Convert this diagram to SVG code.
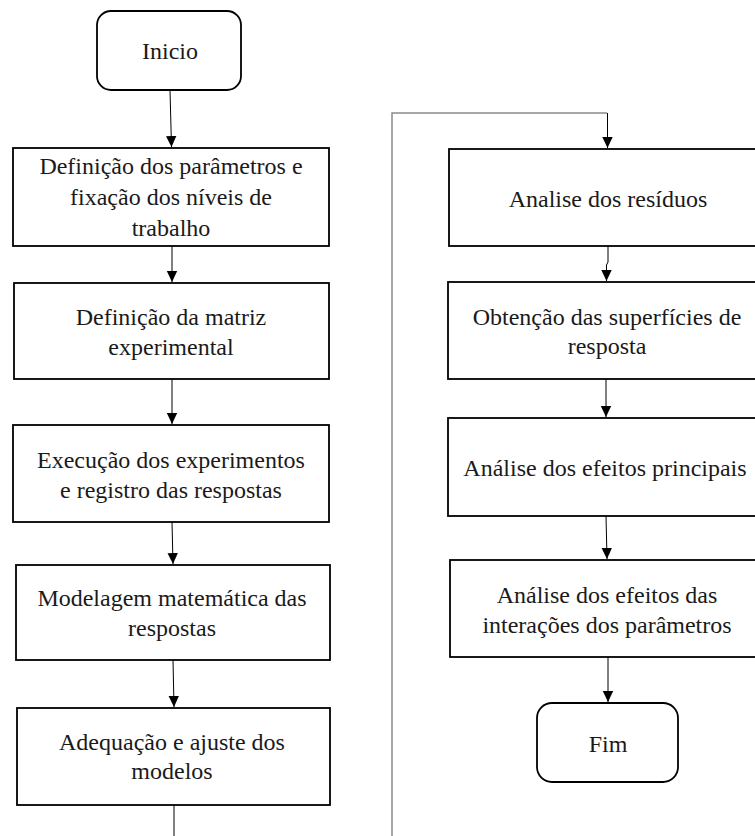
<svg xmlns="http://www.w3.org/2000/svg" width="755" height="836" viewBox="0 0 755 836">
<style>
.box{fill:#fff;stroke:#000;stroke-width:1.8}
.t{font-family:'Liberation Serif','Times New Roman','DejaVu Serif',serif;font-size:24px;fill:#1a1a1a;text-anchor:middle}
.c{fill:none;stroke:#000;stroke-width:1}
.g{fill:none;stroke:#8a8a8a;stroke-width:1.5}
</style>
<defs>
<marker id="ah" markerUnits="userSpaceOnUse" markerWidth="12" markerHeight="12" viewBox="0 0 12 12" refX="11" refY="6" orient="auto">
<path d="M0,0.8 L11,6 L0,11.2 Z" fill="#000"/>
</marker>
</defs>
<rect width="755" height="836" fill="#fff"/>
<g id="connectors">
<path class="c" d="M170,90 L171.5,147" marker-end="url(#ah)"/>
<path class="c" d="M172,246 L172,282" marker-end="url(#ah)"/>
<path class="c" d="M172,379 L172,424" marker-end="url(#ah)"/>
<path class="c" d="M172,522 L173,564" marker-end="url(#ah)"/>
<path class="c" d="M173,660 L174,707" marker-end="url(#ah)"/>
<path class="c" d="M174,805 L174,836"/>
<path class="g" d="M392,836 V113 H607"/>
<path class="c" d="M607.5,113 V148" marker-end="url(#ah)"/>
<path class="c" d="M608,246 V262 L606.5,265 V281" marker-end="url(#ah)"/>
<path class="c" d="M606,379 V417" marker-end="url(#ah)"/>
<path class="c" d="M606,516 L607,559" marker-end="url(#ah)"/>
<path class="c" d="M608,657 V702" marker-end="url(#ah)"/>
</g>
<g id="inicio">
<rect class="box" x="97" y="11" width="144" height="79" rx="14"/>
<text class="t" font-family="Liberation Serif, serif" x="170" y="59">Inicio</text>
</g>
<g id="n1">
<rect class="box" x="13" y="148" width="316" height="98"/>
<text class="t" font-family="Liberation Serif, serif" x="171" y="174">Definição  dos parâmetros e</text>
<text class="t" font-family="Liberation Serif, serif" x="171" y="205">fixação  dos níveis de</text>
<text class="t" font-family="Liberation Serif, serif" x="171" y="236">trabalho</text>
</g>
<g id="n2">
<rect class="box" x="14" y="283" width="315" height="96"/>
<text class="t" font-family="Liberation Serif, serif" x="171" y="325">Definição da matriz</text>
<text class="t" font-family="Liberation Serif, serif" x="171" y="355">experimental</text>
</g>
<g id="n3">
<rect class="box" x="13" y="425" width="316" height="97"/>
<text class="t" font-family="Liberation Serif, serif" x="171" y="468">Execução dos experimentos</text>
<text class="t" font-family="Liberation Serif, serif" x="171" y="498">e registro  das respostas</text>
</g>
<g id="n4">
<rect class="box" x="16" y="565" width="314" height="95"/>
<text class="t" font-family="Liberation Serif, serif" x="172" y="606">Modelagem matemática das</text>
<text class="t" font-family="Liberation Serif, serif" x="172" y="636">respostas</text>
</g>
<g id="n5">
<rect class="box" x="17" y="708" width="313" height="97"/>
<text class="t" font-family="Liberation Serif, serif" x="172" y="750">Adequação e ajuste dos</text>
<text class="t" font-family="Liberation Serif, serif" x="172" y="779">modelos</text>
</g>
<g id="r1">
<rect class="box" x="449" y="149" width="320" height="97"/>
<text class="t" font-family="Liberation Serif, serif" x="608" y="207">Analise  dos resíduos</text>
</g>
<g id="r2">
<rect class="box" x="448" y="282" width="321" height="97"/>
<text class="t" font-family="Liberation Serif, serif" x="607" y="325">Obtenção das superfícies de</text>
<text class="t" font-family="Liberation Serif, serif" x="607" y="354">resposta</text>
</g>
<g id="r3">
<rect class="box" x="448" y="418" width="321" height="98"/>
<text class="t" font-family="Liberation Serif, serif" x="605" y="476">Análise dos efeitos principais</text>
</g>
<g id="r4">
<rect class="box" x="450" y="560" width="319" height="97"/>
<text class="t" font-family="Liberation Serif, serif" x="607" y="603">Análise dos efeitos das</text>
<text class="t" font-family="Liberation Serif, serif" x="607" y="633">interações dos parâmetros</text>
</g>
<g id="fim">
<rect class="box" x="537" y="703" width="141" height="79" rx="15"/>
<text class="t" font-family="Liberation Serif, serif" x="608" y="752">Fim</text>
</g>
</svg>
